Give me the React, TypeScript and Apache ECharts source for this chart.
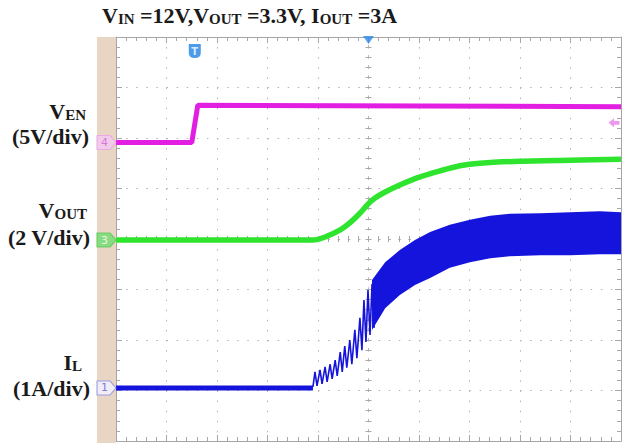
import React, { useEffect, useRef } from "react";
import * as echarts from "echarts";

// Screen coordinates in divisions from the graticule centre: x -5..5, y -4..4
const venX = [-5, -3.5, -3.38, 5];
const venY = [1.91, 1.91, 2.65, 2.62];

const voutX = [-5, -1.1, -0.86, -0.56, -0.37, -0.17, -0.01, 0.13, 0.33, 0.62, 1.02, 1.42, 1.81, 2.21, 3.0, 3.99, 5.0];
const voutY = [-0.02, -0.02, 0.04, 0.18, 0.32, 0.51, 0.69, 0.81, 0.93, 1.07, 1.23, 1.35, 1.45, 1.5, 1.54, 1.56, 1.58];

const ilBaseX = [-5, -1.1];
const ilBaseY = [-2.95, -2.95];

const ilTeethX = [-1.1, -1.06, -1.02, -0.96, -0.92, -0.86, -0.82, -0.76, -0.72, -0.66, -0.62, -0.56, -0.52, -0.47, -0.43, -0.37, -0.33, -0.27, -0.23, -0.17, -0.13, -0.09, -0.05, -0.01, 0.03, 0.07, 0.11, 0.15];
const ilTeethY = [-2.93, -2.63, -2.91, -2.59, -2.87, -2.53, -2.83, -2.48, -2.77, -2.4, -2.71, -2.24, -2.63, -2.12, -2.55, -2.0, -2.48, -1.8, -2.36, -1.56, -2.2, -1.21, -2.04, -1.01, -1.9, -0.89, -1.76, -0.77];

const ilBandX = [0.07, 0.33, 0.62, 0.92, 1.22, 1.61, 2.01, 2.41, 2.8, 3.4, 3.99, 4.58, 5.0];
const ilBandHi = [-0.81, -0.46, -0.22, -0.02, 0.14, 0.28, 0.38, 0.46, 0.5, 0.51, 0.53, 0.55, 0.53];
const ilBandLo = [-1.8, -1.37, -1.11, -0.91, -0.77, -0.57, -0.46, -0.38, -0.34, -0.32, -0.32, -0.3, -0.3];

const channelTags = ["4", "3", "1"];
const channelLevels = [1.91, -0.02, -2.95];
const triggerLevel = 2.3;
const triggerTime = -3.44;

const MAG = "#e21ee2";
const GREEN = "#2ee42e";
const BLUE = "#1414dc";
const INK = "#1a1a1a";
const SERIF = "'Liberation Serif', 'DejaVu Serif', serif";

const pairs = (xs: number[], ys: number[]) => xs.map((x, i) => [x, ys[i]]);

const rich = {
  m: { fontSize: 22, fontFamily: SERIF, fontWeight: "bold", fill: INK, lineHeight: 22 },
  s: { fontSize: 15, fontFamily: SERIF, fontWeight: "bold", fill: INK, lineHeight: 22, padding: [8, 0, 0, 0] },
};

const dotted = { color: "#b4b4b4", width: 1, type: [1.5, 8.6] as any };
const border = { color: "#a4a4a4", width: 1 };
const tickStyle = { color: "#a8a8a8", width: 1 };

function borderAxis(position: string, withSplit: boolean) {
  const isY = position === "left" || position === "right";
  return {
    type: "value",
    min: isY ? -4 : -5,
    max: isY ? 4 : 5,
    interval: 1,
    position,
    axisLine: { show: true, onZero: false, lineStyle: border },
    axisTick: { show: true, inside: true, length: 6, lineStyle: tickStyle },
    minorTick: { show: true, splitNumber: 5, length: 4, lineStyle: tickStyle },
    axisLabel: { show: false },
    splitLine: { show: withSplit, lineStyle: dotted },
  };
}

function centreAxis(position: string, inside: boolean, isY: boolean) {
  return {
    type: "value",
    min: isY ? -4 : -5,
    max: isY ? 4 : 5,
    interval: 1,
    position,
    axisLine: { show: true, onZero: true, onZeroAxisIndex: 0, lineStyle: dotted },
    axisTick: { show: true, inside, length: 3, lineStyle: tickStyle },
    minorTick: { show: true, splitNumber: 5, length: 3, lineStyle: tickStyle },
    axisLabel: { show: false },
    splitLine: { show: false },
  };
}

export default function App() {
  const ref = useRef<HTMLDivElement>(null);
  useEffect(() => {
    if (!ref.current) return;
    const chart = echarts.init(ref.current, null, { renderer: "svg" });
    const tagFill = ["#f4c8f4", "#70dc70", "#f2f2ff"];
    const tagBorder = ["#e8a0e8", "#52c852", "#8c8ce8"];
    const tagText = ["#d060d0", "#ffffff", "#5a5ae0"];
    const labelRows = [
      { main: "{m|V}{s|EN}", scale: "(5V/div)", y1: 111, y2: 136, x1: 86, x2: 89 },
      { main: "{m|V}{s|OUT}", scale: "(2 V/div)", y1: 210, y2: 237, x1: 87, x2: 90 },
      { main: "{m|I}{s|L}", scale: "(1A/div)", y1: 362, y2: 388, x1: 82, x2: 90 },
    ];
    const graphic: any[] = [
      { type: "rect", z: 1, shape: { x: 97, y: 37, width: 19, height: 406 }, style: { fill: "#e8d5c3" } },
      {
        type: "text", z: 5, x: 102, y: 15,
        style: { text: "{m|V}{s|IN}{m| =12V,V}{s|OUT}{m| =3.3V, I}{s|OUT}{m| =3A}", rich, align: "left", verticalAlign: "middle" },
      },
    ];
    labelRows.forEach((r) => {
      graphic.push({ type: "text", z: 5, x: r.x1, y: r.y1, style: { text: r.main, rich, align: "right", verticalAlign: "middle" } });
      graphic.push({
        type: "text", z: 5, x: r.x2, y: r.y2,
        style: { text: r.scale, fontSize: 22, fontWeight: "bold", fontFamily: SERIF, fill: INK, align: "right", verticalAlign: "middle" },
      });
    });

    chart.setOption({
      animation: false,
      backgroundColor: "transparent",
      grid: { left: 116, top: 37, width: 505, height: 404, outerBoundsMode: "none", containLabel: false },
      graphic,
      xAxis: [
        borderAxis("bottom", true),
        borderAxis("top", false),
        centreAxis("bottom", true, false),
        centreAxis("bottom", false, false),
      ],
      yAxis: [
        borderAxis("left", true),
        borderAxis("right", false),
        centreAxis("left", true, true),
        centreAxis("left", false, true),
      ],
      series: [
        {
          type: "line", data: pairs(venX, venY), showSymbol: false, z: 3,
          lineStyle: { color: MAG, width: 5 },
        },
        {
          type: "line", data: pairs(voutX, voutY), showSymbol: false, smooth: 0.25, z: 3,
          lineStyle: { color: GREEN, width: 5.5 },
        },
        {
          type: "line", data: pairs(ilBaseX, ilBaseY), showSymbol: false, z: 3,
          lineStyle: { color: BLUE, width: 5 },
        },
        {
          type: "line", data: pairs(ilTeethX, ilTeethY), showSymbol: false, z: 3,
          lineStyle: { color: BLUE, width: 1.6 },
        },
        {
          type: "custom", z: 3,
          data: ilBandX.map((x, i) => [x, ilBandLo[i], ilBandHi[i]]),
          renderItem: (params: any, api: any) => {
            if (params.dataIndex !== 0) return null;
            const top = ilBandX.map((x, i) => api.coord([x, ilBandHi[i]]));
            const bottom = ilBandX.map((x, i) => api.coord([x, ilBandLo[i]])).reverse();
            return { type: "polygon", shape: { points: top.concat(bottom) }, style: { fill: BLUE } };
          },
        },
        {
          type: "scatter", z: 6, clip: false,
          symbol: "path://M0,0 L13,0 L19,7 L13,14 L0,14 Z",
          symbolSize: [19, 14], symbolOffset: [-9.5, 0],
          data: channelLevels.map((y, i) => ({
            value: [-5, y],
            itemStyle: { color: tagFill[i], borderColor: tagBorder[i], borderWidth: 1 },
            label: { color: tagText[i] },
          })),
          label: {
            show: true, position: "inside", offset: [-2, 0], fontSize: 11, fontFamily: "'DejaVu Sans', sans-serif",
            formatter: (p: any) => channelTags[p.dataIndex],
          },
        },
        {
          type: "scatter", z: 6, clip: false,
          symbol: "path://M0,5 L6,0 L6,3 L12,3 L12,7 L6,7 L6,10 Z",
          symbolSize: [11, 9], symbolOffset: [-7, 0],
          itemStyle: { color: "#e880e8" },
          data: [[5, triggerLevel]],
        },
        {
          type: "scatter", z: 6, clip: false,
          symbol: "path://M0,0 L12,0 L12,9 Q12,14 6,14 Q0,14 0,9 Z",
          symbolSize: [12, 14], symbolOffset: [0, 14],
          itemStyle: { color: "#1e82e4" },
          data: [[triggerTime, 4]],
          label: { show: true, position: "inside", formatter: "T", color: "#ffffff", fontSize: 10, fontWeight: "bold", fontFamily: "'DejaVu Sans', sans-serif" },
        },
        {
          type: "scatter", z: 6, clip: false,
          symbol: "triangle", symbolRotate: 180,
          symbolSize: [11, 8], symbolOffset: [0, 3],
          itemStyle: { color: "#2a88e8" },
          data: [[0, 4]],
        },
      ],
    });
    return () => chart.dispose();
  }, []);
  return <div ref={ref} style={{ position: "fixed", left: 0, top: 0, width: 629, height: 443, background: "#fff" }} />;
}
